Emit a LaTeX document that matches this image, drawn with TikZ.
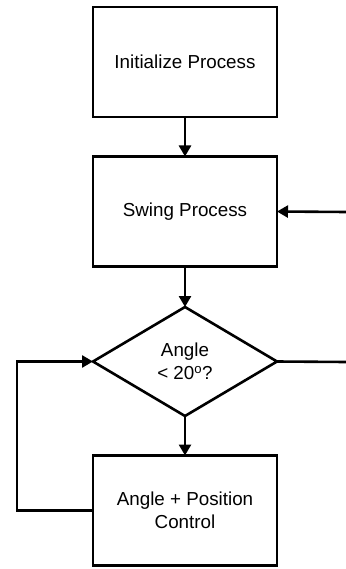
\documentclass[tikz,border=0pt]{standalone}
\usepackage{fontspec}
\setmainfont{Liberation Sans}
\usetikzlibrary{shapes.geometric,arrows.meta}
\begin{document}
\begin{tikzpicture}[x=1pt,y=-1pt,
  line width=2.6pt,
  font=\fontsize{18.8}{23}\selectfont,
  procbox/.style={draw, rectangle, minimum width=184pt, minimum height=110pt, inner sep=0pt, outer sep=0pt, align=center},
  decision/.style={draw, diamond, minimum width=184pt, minimum height=109pt, inner sep=0pt, outer sep=0pt, align=center},
  flow/.style={-{Triangle[length=11pt,width=12pt]}}]
\useasboundingbox (0,0) rectangle (345,569);
\node[procbox] (init) at (185,62) {Initialize Process};
\node[procbox] (swing) at (185,211.5) {Swing Process};
\node[decision] (check) at (185,361.5) {Angle\\\textless{} 20\textsuperscript{o}?};
\node[procbox] (ctrl) at (185,510.5) {Angle + Position\\Control};
\coordinate (rin) at (346,212);
\coordinate (rout) at (346,362);
\coordinate (lbot) at (17,510.5);
\coordinate (ltop) at (17,361.5);
\draw[flow] (init) -- (swing);
\draw[flow] (swing) -- (check);
\draw[flow] (check) -- (ctrl);
\draw[flow] (rin) -- (swing.east);
\draw (check.east) -- (rout);
\draw[flow] (ctrl.west) -- (lbot) -- (ltop) -- (check.west);
\end{tikzpicture}
\end{document}
